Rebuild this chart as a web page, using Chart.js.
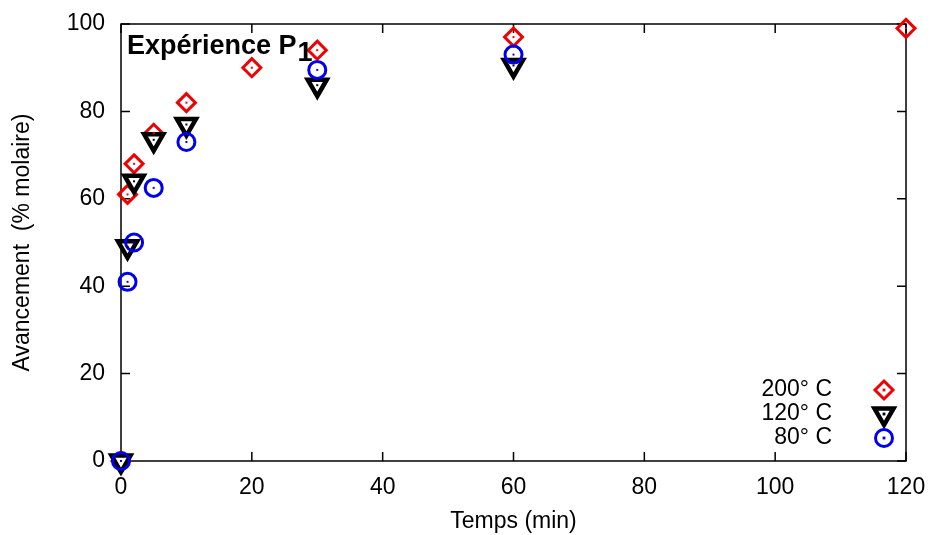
<!DOCTYPE html>
<html>
<head>
<meta charset="utf-8">
<script src="https://cdn.jsdelivr.net/npm/chart.js@4/dist/chart.umd.min.js"></script>
<style>
html, body { margin: 0; padding: 0; background: #fff; }
</style>
</head>
<body>
<canvas id="chart" width="930" height="535"></canvas>
<script>
// temps (min) et avancement (% molaire) pour chaque température
const t200 = [0, 1, 2, 5, 10, 20, 30, 60, 120];
const v200 = [0, 61, 68, 75, 82, 90, 94, 97, 99];
const t120 = [0, 1, 2, 5, 10, 30, 60];
const v120 = [0, 49, 64, 73.5, 77, 86, 90.5];
const t80 = [0, 1, 2, 5, 10, 30, 60];
const v80 = [0, 41, 50, 62.5, 73, 89.5, 93];

const seriesNames = ['200° C', '120° C', '80° C'];
const xTicks = [0, 20, 40, 60, 80, 100, 120];
const yTicks = [0, 20, 40, 60, 80, 100];

const FONT = '"Liberation Sans", Arial, sans-serif';
const RED = '#f00000';
const BLUE = '#0000f0';

function pts(xs, ys) {
    return xs.map((x, i) => ({ x: x, y: ys[i] }));
}

// petit point central, comme gnuplot
function dots(data, color) {
    return {
        data: data, order: 0, clip: false,
        pointStyle: 'rect', pointRadius: 1.4, pointHoverRadius: 1.4,
        backgroundColor: color, borderWidth: 0, showLine: false
    };
}

const d200 = pts(t200, v200);
const d120 = pts(t120, v120);
const d80 = pts(t80, v80);

const frame = {
    id: 'frame',
    beforeDatasetsDraw(chart) {
        const { ctx, chartArea: a, scales } = chart;
        ctx.save();
        ctx.strokeStyle = '#000';
        ctx.lineWidth = 1.5;
        ctx.strokeRect(a.left, a.top, a.right - a.left, a.bottom - a.top);
        ctx.beginPath();
        xTicks.forEach(v => {
            const x = scales.x.getPixelForValue(v);
            ctx.moveTo(x, a.bottom); ctx.lineTo(x, a.bottom - 9);
            ctx.moveTo(x, a.top); ctx.lineTo(x, a.top + 9);
        });
        yTicks.forEach(v => {
            const y = scales.y.getPixelForValue(v);
            ctx.moveTo(a.left, y); ctx.lineTo(a.left + 9, y);
            ctx.moveTo(a.right, y); ctx.lineTo(a.right - 9, y);
        });
        ctx.stroke();
        ctx.restore();
    },
    afterDraw(chart) {
        const { ctx, chartArea: a } = chart;
        ctx.save();
        // titre
        ctx.fillStyle = '#000';
        ctx.textBaseline = 'alphabetic';
        ctx.textAlign = 'left';
        ctx.font = 'bold 27px ' + FONT;
        const main = 'Expérience P';
        ctx.fillText(main, a.left + 6, 54);
        const w = ctx.measureText(main).width;
        ctx.fillText('1', a.left + 7 + w, 61);

        // légende
        ctx.font = '23px ' + FONT;
        ctx.textAlign = 'right';
        ctx.textBaseline = 'middle';
        const ys = [390, 414, 438];
        const mx = 884;
        seriesNames.forEach((name, i) => {
            ctx.fillStyle = '#000';
            ctx.fillText(name, 832, ys[i]);
        });
        // diamant rouge
        let y = ys[0];
        ctx.lineWidth = 3;
        ctx.strokeStyle = RED;
        ctx.beginPath();
        ctx.moveTo(mx, y - 9); ctx.lineTo(mx + 9, y); ctx.lineTo(mx, y + 9); ctx.lineTo(mx - 9, y); ctx.closePath();
        ctx.stroke();
        ctx.fillStyle = RED;
        ctx.fillRect(mx - 1.4, y - 1.4, 2.8, 2.8);
        // triangle noir
        y = ys[1];
        const r = 11;
        ctx.lineWidth = 4.5;
        ctx.strokeStyle = '#000';
        ctx.fillStyle = '#fff';
        ctx.beginPath();
        ctx.moveTo(mx, y + r);
        ctx.lineTo(mx - r * 0.866, y - r / 2);
        ctx.lineTo(mx + r * 0.866, y - r / 2);
        ctx.closePath();
        ctx.fill(); ctx.stroke();
        ctx.fillStyle = '#000';
        ctx.fillRect(mx - 1.4, y - 1.4, 2.8, 2.8);
        // cercle bleu
        y = ys[2];
        ctx.lineWidth = 3;
        ctx.strokeStyle = BLUE;
        ctx.beginPath();
        ctx.arc(mx, y, 8.5, 0, Math.PI * 2);
        ctx.stroke();
        ctx.fillStyle = BLUE;
        ctx.fillRect(mx - 1.4, y - 1.4, 2.8, 2.8);
        ctx.restore();
    }
};

const ctx = document.getElementById('chart').getContext('2d');
new Chart(ctx, {
    type: 'scatter',
    data: {
        datasets: [
            {
                label: seriesNames[2], data: d80, order: 1, clip: false,
                pointStyle: 'circle', pointRadius: 8.5, pointHoverRadius: 8.5,
                borderColor: BLUE, backgroundColor: 'rgba(0,0,0,0)', borderWidth: 3
            },
            {
                label: seriesNames[1], data: d120, order: 2, clip: false,
                pointStyle: 'triangle', rotation: 180, pointRadius: 11, pointHoverRadius: 11,
                borderColor: '#000', backgroundColor: '#fff', borderWidth: 4.5
            },
            {
                label: seriesNames[0], data: d200, order: 3, clip: false,
                pointStyle: 'rectRot', pointRadius: 9, pointHoverRadius: 9,
                borderColor: RED, backgroundColor: 'rgba(0,0,0,0)', borderWidth: 3
            },
            dots(d80, BLUE),
            dots(d120, '#000'),
            dots(d200, RED)
        ]
    },
    options: {
        responsive: false,
        animation: false,
        events: [],
        layout: { padding: { top: 24, right: 24, left: 0, bottom: 0 } },
        plugins: {
            legend: { display: false },
            tooltip: { enabled: false }
        },
        scales: {
            x: {
                type: 'linear', min: 0, max: 120,
                afterFit(s) { s.height = 74; s.paddingLeft = 0; s.paddingRight = 0; },
                afterBuildTicks(s) { s.ticks = xTicks.map(v => ({ value: v })); },
                grid: { display: false, drawTicks: false },
                border: { display: false },
                ticks: { color: '#000', font: { family: FONT, size: 23 }, padding: 13, maxRotation: 0 },
                title: { display: true, text: 'Temps (min)', color: '#000', font: { family: FONT, size: 23 }, padding: { top: 0, bottom: 0 } }
            },
            y: {
                type: 'linear', min: 0, max: 100,
                afterFit(s) { s.width = 121; s.paddingTop = 0; s.paddingBottom = 0; },
                afterBuildTicks(s) { s.ticks = yTicks.map(v => ({ value: v })); },
                grid: { display: false, drawTicks: false },
                border: { display: false },
                ticks: { color: '#000', font: { family: FONT, size: 23 }, padding: 16 },
                title: { display: true, text: 'Avancement  (% molaire)', color: '#000', font: { family: FONT, size: 23 }, padding: { top: 9, bottom: 0 } }
            }
        }
    },
    plugins: [frame]
});
</script>
</body>
</html>
